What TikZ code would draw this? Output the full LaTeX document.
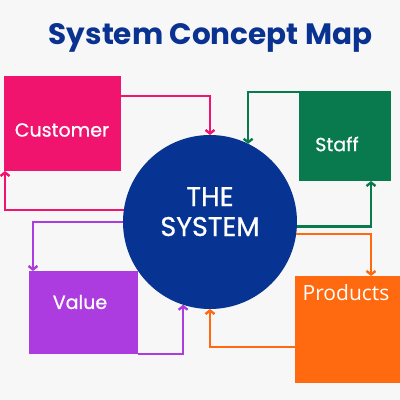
\documentclass[tikz,border=0pt]{standalone}
\usepackage{fontspec}
\setmainfont{Poppins}
\newfontfamily\medfont{Poppins}[FakeBold=0.8]
\newfontfamily\prodfont{Open Sans}
\usetikzlibrary{arrows.meta}
\definecolor{bgc}{RGB}{247,247,247}
\definecolor{pinkc}{RGB}{240,20,110}
\definecolor{greenc}{RGB}{8,122,78}
\definecolor{bluec}{RGB}{7,52,146}
\definecolor{purplec}{RGB}{172,60,224}
\definecolor{orangec}{RGB}{255,105,15}
\definecolor{titlec}{RGB}{10,50,145}
\tikzset{
  boxnode/.style={rectangle, inner sep=0pt, outer sep=0pt},
  lbl/.style={text=white, inner sep=0pt, font=\medfont\fontsize{19}{22}\selectfont},
  conn/.style={line width=2.4pt, -{Straight Barb[length=3.5pt,width=9pt,line width=2.4pt]}},
}
\begin{document}
\begin{tikzpicture}[x=1pt,y=1pt]
\fill[bgc] (0,0) rectangle (400,400);
\useasboundingbox (0,0) rectangle (400,400);
% title
\node[anchor=base, text=titlec, inner sep=0pt, font=\fontsize{29.5}{34}\selectfont\bfseries] (title) at (210.5,355) {System Concept Map};
% boxes
\node[boxnode, fill=pinkc, minimum width=117pt, minimum height=95pt] (cust) at (62.5,276.5) {};
\node[boxnode, fill=greenc, minimum width=92pt, minimum height=90pt] (staff) at (345,264) {};
\node[boxnode, fill=purplec, minimum width=109pt, minimum height=83pt] (val) at (83.5,87.5) {};
\node[boxnode, fill=orangec, minimum width=105pt, minimum height=107pt] (prod) at (347.5,70.5) {};
\node[circle, fill=bluec, minimum size=174pt, inner sep=0pt, outer sep=0pt] (sys) at (210,178) {};
% labels
\node[lbl] (custl) at (62,270) {Customer};
\node[lbl] (staffl) at (337,256) {Staff};
\node[lbl] (vall) at (80,98) {Value};
\node[lbl, font=\prodfont\fontsize{21}{24}\selectfont] (prodl) at (346,107) {Products};
\node[anchor=base, text=white, align=center, inner sep=0pt, font=\medfont\fontsize{27}{30}\selectfont] (sysl) at (210,164) {THE\\SYSTEM};
% connectors
\draw[conn, pinkc] ([yshift=-20pt]cust.north east) -| (sys.north);
\draw[conn, pinkc] (sys.172) -| ([xshift=1pt]cust.south west);
\draw[conn, greenc] ([yshift=-1pt]staff.north west) -| (sys.64);
\draw[conn, greenc] (sys.-3) -| ([xshift=26pt]staff.south);
\draw[conn, orangec] (sys.-8) -| ([xshift=23.5pt]prod.north);
\draw[conn, orangec] ([yshift=36pt]prod.south west) -| (sys.south);
\draw[conn, purplec] (sys.west) -| ([xshift=4pt]val.north west);
\draw[conn, purplec] (val.south east) -| (sys.252);
\end{tikzpicture}
\end{document}
